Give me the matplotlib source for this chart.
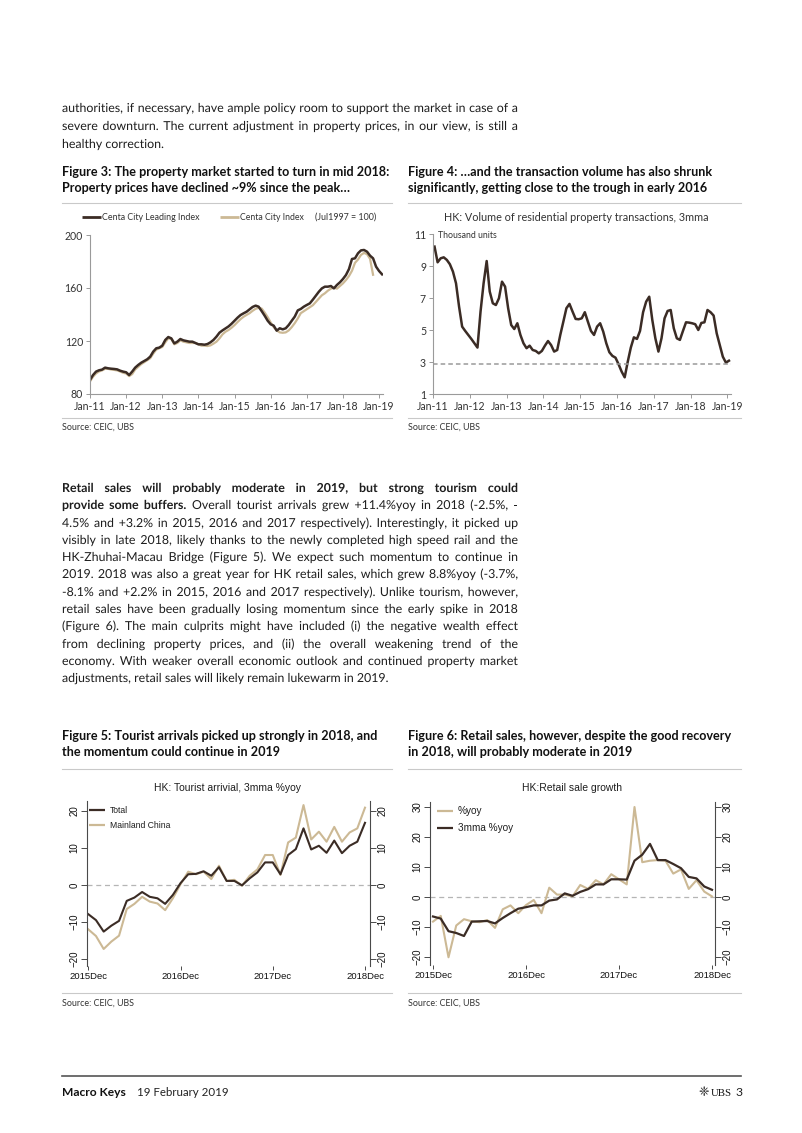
import matplotlib
matplotlib.use('Agg')
import matplotlib.pyplot as plt
import matplotlib.patheffects as pe
from matplotlib.lines import Line2D
import numpy as np

# ---------------- data ----------------
year_ticks = ['Jan-11', 'Jan-12', 'Jan-13', 'Jan-14', 'Jan-15', 'Jan-16', 'Jan-17', 'Jan-18', 'Jan-19']

# Centa City Leading Index, monthly from Jan-11
fig3_leading = [90.6, 94.3, 96.9, 97.9, 98.4, 99.9, 99.4, 99.1, 98.9, 98.6,
                97.6, 96.9, 96.4, 94.3, 96.9, 99.9, 101.9, 103.6, 104.9, 106.2,
                108.2, 112.0, 114.5, 115.0, 116.5, 120.8, 123.0, 122.0, 118.2, 119.5,
                121.5, 120.5, 120.0, 119.5, 119.5, 118.5, 117.5, 117.5, 117.2, 117.7,
                119.0, 120.8, 123.3, 126.3, 128.0, 129.5, 131.0, 133.0, 135.3, 137.6,
                139.6, 140.9, 142.1, 143.9, 145.7, 146.7, 145.9, 142.6, 139.1, 135.3,
                132.6, 131.6, 127.8, 129.6, 128.8, 129.6, 132.1, 135.3, 138.4, 143.1,
                144.2, 145.9, 147.2, 148.4, 151.2, 154.2, 157.2, 159.7, 161.0, 161.0,
                161.5, 159.7, 162.3, 164.3, 166.8, 169.8, 174.3, 181.9, 182.4, 186.2,
                188.4, 188.7, 187.4, 184.4, 182.4, 176.1, 172.8, 170.3]
# Centa City Index
fig3_index = [89.5, 93.0, 95.5, 97.0, 97.8, 99.0, 99.0, 98.5, 98.2, 97.8,
              97.0, 96.0, 95.5, 93.5, 95.0, 98.5, 100.5, 102.5, 104.0, 105.5,
              107.0, 110.5, 113.5, 114.5, 115.5, 119.0, 122.0, 121.5, 117.5, 118.5,
              120.5, 119.5, 119.0, 118.5, 118.5, 118.5, 117.5, 116.5, 116.5, 116.2,
              116.7, 118.0, 119.5, 122.0, 125.0, 127.0, 128.3, 130.0, 132.0, 134.3,
              136.5, 138.3, 139.7, 141.0, 142.8, 144.3, 145.0, 144.5, 141.5, 138.0,
              134.0, 130.5, 128.0, 126.5, 126.2, 126.5, 128.0, 130.5, 133.5, 137.0,
              141.0, 142.5, 144.0, 145.5, 147.0, 149.5, 152.0, 154.5, 156.0, 158.0,
              159.5, 160.3, 159.5, 161.5, 163.5, 166.0, 169.0, 173.0, 179.0, 181.5,
              185.0, 186.5, 185.5, 182.0, 170.0]

# residential property transactions, 3mma, thousand units
fig4_volume = [10.23, 9.25, 9.5, 9.56, 9.4, 9.13, 8.67, 7.94, 6.48, 5.23,
               4.96, 4.71, 4.46, 4.19, 3.92, 6.17, 7.94, 9.33, 7.42, 6.69,
               6.58, 7.0, 8.04, 7.73, 6.38, 5.33, 5.08, 5.44, 4.71, 4.19,
               3.88, 4.04, 3.77, 3.71, 3.56, 3.71, 4.04, 4.33, 4.08, 3.67,
               3.77, 4.71, 5.54, 6.38, 6.65, 6.17, 5.71, 5.69, 5.75, 6.13,
               5.54, 4.96, 4.71, 5.23, 5.44, 4.92, 4.19, 3.63, 3.4, 3.29,
               2.88, 2.42, 2.06, 3.04, 3.92, 4.56, 4.46, 4.96, 6.13, 6.79,
               7.1, 5.65, 4.5, 3.67, 4.5, 5.75, 6.21, 6.27, 5.13, 4.5,
               4.4, 4.96, 5.5, 5.48, 5.44, 5.38, 5.02, 5.46, 5.5, 6.27,
               6.13, 5.92, 4.81, 4.08, 3.35, 2.98, 3.1]
fig4_trough = 2.9

dec_ticks = ['2015Dec', '2016Dec', '2017Dec', '2018Dec']
# tourist arrivals 3mma %yoy, Dec-15 .. Dec-18
fig5_total = [-7.9, -9.5, -12.6, -11.0, -9.7, -4.3, -3.4, -1.9, -3.2, -3.6,
              -5.1, -2.7, 0.5, 2.9, 3.0, 3.7, 2.5, 4.8, 1.1, 1.1,
              -0.1, 1.8, 3.4, 6.1, 6.1, 2.9, 8.1, 9.7, 15.3, 9.6,
              10.6, 8.7, 12.0, 8.6, 10.6, 11.7, 16.8]
fig5_mainland = [-12.0, -13.8, -17.3, -15.3, -13.7, -6.5, -5.1, -3.2, -4.5, -5.0,
                 -6.8, -3.6, 0.2, 3.6, 2.9, 3.6, 1.6, 5.2, 1.1, 1.4,
                 -0.2, 2.5, 4.2, 8.1, 8.1, 2.7, 11.5, 12.8, 21.6, 12.3,
                 14.4, 11.7, 15.7, 11.7, 14.2, 15.3, 20.9]

# retail sales growth, Dec-15 .. Dec-18
fig6_yoy = [-8.2, -6.3, -20.1, -9.5, -7.4, -8.1, -8.4, -7.7, -10.3, -4.1,
            -2.8, -5.4, -2.7, -1.0, -5.4, 3.1, 0.8, 0.8, 0.2, 4.0,
            2.7, 5.6, 4.2, 7.6, 5.9, 4.2, 30.0, 11.6, 12.1, 12.3,
            12.1, 7.8, 9.2, 2.7, 5.6, 1.8, 0.2]
fig6_3mma = [-6.5, -7.2, -11.4, -12.0, -13.0, -8.2, -8.1, -8.0, -8.8, -7.0,
             -5.4, -3.9, -3.4, -2.8, -2.8, -1.2, -0.8, 1.2, 0.4, 1.7,
             2.6, 4.2, 4.2, 5.9, 5.9, 5.8, 12.1, 14.1, 17.7, 12.3,
             12.3, 11.0, 9.6, 6.7, 6.2, 3.5, 2.4]

para1 = ["authorities, if necessary, have ample policy room to support the market in case of a",
         "severe downturn. The current adjustment in property prices, in our view, is still a",
         "healthy correction."]
para2 = ["Retail sales will probably moderate in 2019, but strong tourism could",
         "provide some buffers. Overall tourist arrivals grew +11.4%yoy in 2018 (-2.5%, -",
         "4.5% and +3.2% in 2015, 2016 and 2017 respectively). Interestingly, it picked up",
         "visibly in late 2018, likely thanks to the newly completed high speed rail and the",
         "HK-Zhuhai-Macau Bridge (Figure 5). We expect such momentum to continue in",
         "2019. 2018 was also a great year for HK retail sales, which grew 8.8%yoy (-3.7%,",
         "-8.1% and +2.2% in 2015, 2016 and 2017 respectively). Unlike tourism, however,",
         "retail sales have been gradually losing momentum since the early spike in 2018",
         "(Figure 6). The main culprits might have included (i) the negative wealth effect",
         "from declining property prices, and (ii) the overall weakening trend of the",
         "economy. With weaker overall economic outlook and continued property market",
         "adjustments, retail sales will likely remain lukewarm in 2019."]
para2_bold = [11, 3, 0, 0, 0, 0, 0, 0, 0, 0, 0, 0]

# ---------------- page ----------------
W, H = 802, 1133
DARK = '#3b2c25'
LIGHT = '#ccb995'
TXT = '#1e1e1e'
BODY = 'Lato'
STATA = 'Liberation Sans'

fig = plt.figure(figsize=(W / 100, H / 100), dpi=100)
fig.patch.set_facecolor('white')
R = fig.canvas.get_renderer()


def fx(x):
    return x / W


def fy(y):
    return 1 - y / H


def text_w(s, size, **kw):
    t = fig.text(0, 0, s, fontsize=size, **kw)
    w = t.get_window_extent(renderer=R).width
    t.remove()
    return w


def put(x, y, s, size, **kw):
    kw.setdefault('va', 'baseline')
    kw.setdefault('color', TXT)
    kw.setdefault('family', BODY)
    return fig.text(fx(x), fy(y), s, fontsize=size, **kw)


def fit(x, y, s, width, **kw):
    kw.setdefault('family', BODY)
    size = 10 * width / text_w(s, 10, family=kw['family'], weight=kw.get('weight', 'normal'))
    put(x, y, s, size, **kw)
    return size


def hline(x0, x1, y, color='#c9c9c9', lw=0.8):
    fig.add_artist(Line2D([fx(x0), fx(x1)], [fy(y), fy(y)], color=color, lw=lw))


def seg(x0, x1, y, color, lw):
    fig.add_artist(Line2D([fx(x0), fx(x1)], [fy(y), fy(y)], color=color, lw=lw,
                          solid_capstyle='butt'))


def paragraph(lines, bold, x0, x1, y0, step, size):
    # justified text, one text per word; drawn as paths so all words share one baseline
    sp = text_w('a a', size, family=BODY) - text_w('aa', size, family=BODY)
    for k, line in enumerate(lines):
        words = line.split(' ')
        wts = ['bold' if i < bold[k] else 'normal' for i in range(len(words))]
        ws = [text_w(w, size, family=BODY, weight=t) for w, t in zip(words, wts)]
        last = k == len(lines) - 1
        gap = sp if last else max((x1 - x0 - sum(ws)) / (len(words) - 1), 0.6 * sp)
        x = x0
        yb = round(y0 + k * step)
        for w, t, wd in zip(words, wts, ws):
            put(x, yb, w, size, weight=t, path_effects=[pe.Normal()])
            x += wd + gap


# body size: first line of the opening paragraph is only just justified
sp10 = text_w('a a', 10, family=BODY) - text_w('aa', 10, family=BODY)
w1 = para1[0].split(' ')
nat1 = sum(text_w(w, 10, family=BODY) for w in w1) + sp10 * (len(w1) - 1)
body_size = 10 * 450 / nat1

paragraph(para1, [0, 0, 0], 62, 518, 112.5, 17.5, body_size)
paragraph(para2, para2_bold, 62, 518, 492, 17.3, body_size)

# figure titles
tsize = 10 * 329 / text_w('Figure 3: The property market started to turn in mid 2018:', 10,
                          family=BODY, weight='bold')
titles = [(62, 176, ['Figure 3: The property market started to turn in mid 2018:',
                     'Property prices have declined ~9% since the peak\u2026']),
          (408, 176, ['Figure 4: \u2026and the transaction volume has also shrunk',
                      'significantly, getting close to the trough in early 2016']),
          (62, 740.5, ['Figure 5: Tourist arrivals picked up strongly in 2018, and',
                       'the momentum could continue in 2019']),
          (408, 740.5, ['Figure 6: Retail sales, however, despite the good recovery',
                        'in 2018, will probably moderate in 2019'])]
for x, y, ls in titles:
    for k, s in enumerate(ls):
        put(x, y + 16 * k, s, tsize, weight='bold', color='#111111')

# separators and sources
for x0, x1 in [(62, 392), (408, 741)]:
    hline(x0, x1, 203)
    hline(x0, x1, 418)
    fit(x0, 430, 'Source: CEIC, UBS', 72, color='#333333')
    hline(x0, x1, 769)
    hline(x0, x1, 993)
    fit(x0, 1006, 'Source: CEIC, UBS', 72, color='#333333')


def style_simple(ax):
    for s in ['top', 'right']:
        ax.spines[s].set_visible(False)
    for s in ['left', 'bottom']:
        ax.spines[s].set_color('#9a9a9a')
        ax.spines[s].set_linewidth(0.8)
    ax.tick_params(length=3, width=0.7, color='#9a9a9a', labelsize=7.6,
                   labelcolor='#333333', pad=2)
    for lab in ax.get_xticklabels() + ax.get_yticklabels():
        lab.set_family(BODY)


# ---------------- Figure 3 ----------------
ax3 = fig.add_axes([fx(90), fy(394), (383 - 90) / W, (394 - 235) / H])
ax3.plot(np.arange(len(fig3_index)), fig3_index, color=LIGHT, lw=1.6)
ax3.plot(np.arange(len(fig3_leading)), fig3_leading, color=DARK, lw=1.8)
ax3.set_xlim(0, 97.3)
ax3.set_ylim(80, 200)
ax3.set_yticks([80, 120, 160, 200])
ax3.set_xticks(np.arange(0, 97, 12))
ax3.set_xticklabels(year_ticks)
style_simple(ax3)

seg(82, 101, 217, DARK, 2.0)
fit(102, 220, 'Centa City Leading Index', 98, color='#333333')
seg(220, 239, 217, LIGHT, 2.0)
fit(240, 220, 'Centa City Index', 64, color='#333333')
fit(315, 220, '(Jul1997 = 100)', 61, color='#333333')

# ---------------- Figure 4 ----------------
ax4 = fig.add_axes([fx(433), fy(394.3), (730.5 - 433) / W, (394.3 - 234.3) / H])
ax4.plot(np.arange(len(fig4_volume)) + 0.5, fig4_volume, color=DARK, lw=1.8)
ax4.axhline(fig4_trough, color='#9a9a9a', lw=1.1, ls=(0, (3, 2)))
ax4.set_xlim(0, 97)
ax4.set_ylim(1, 11)
ax4.set_yticks([1, 3, 5, 7, 9, 11])
ax4.set_xticks(np.arange(0, 97, 12))
ax4.set_xticklabels(year_ticks)
style_simple(ax4)
fit(444, 221, 'HK: Volume of residential property transactions, 3mma', 263, color='#333333')
fit(438, 238, 'Thousand units', 59, color='#333333')


# ---------------- Figures 5 and 6 (Stata style) ----------------
def stata_axes(left, right, top, bottom, x0, x36, ylim, yticks):
    ax = fig.add_axes([fx(left), fy(bottom), (right - left) / W, (bottom - top) / H])
    ppm = (x36 - x0) / 36.0
    ax.set_xlim((left - x0) / ppm, (right - x0) / ppm)
    ax.set_ylim(*ylim)
    ax.set_yticks(yticks)
    ax.set_xticks([0, 12, 24, 36])
    ax.set_xticklabels(dec_ticks)
    ax.spines['top'].set_visible(False)
    ax.spines['bottom'].set_visible(False)
    for s in ['left', 'right']:
        ax.spines[s].set_color('#4a4a4a')
        ax.spines[s].set_linewidth(0.8)
    ax.tick_params(axis='y', left=True, right=True, labelleft=True, labelright=True,
                   labelrotation=90, length=4, width=0.7, color='#4a4a4a',
                   labelsize=7, pad=1.5)
    ax.tick_params(axis='x', length=3, width=0.7, color='#4a4a4a', labelsize=6.8, pad=1.5)
    for lab in ax.get_xticklabels() + ax.get_yticklabels():
        lab.set_family(STATA)
        lab.set_color('#111111')
    for lab in ax.get_yticklabels():
        lab.set_va('center')
    ax.axhline(0, color='#b5b5b5', lw=0.9, ls=(0, (4, 3)))
    return ax


m = np.arange(37)
ax5 = stata_axes(87, 370, 801, 966, 88.3, 365, (-21.9, 22.7), [-20, -10, 0, 10, 20])
ax5.plot(m, fig5_mainland, color=LIGHT, lw=1.5)
ax5.plot(m, fig5_total, color=DARK, lw=1.5)
put(227, 791, 'HK: Tourist arrivial, 3mma %yoy', 7.5, ha='center', family=STATA)
seg(89, 105, 810, DARK, 1.6)
put(110, 813, 'Total', 6.2, family=STATA)
seg(89, 105, 825, LIGHT, 1.6)
put(110, 827.5, 'Mainland China', 6.2, family=STATA)

ax6 = stata_axes(430, 715, 802, 965, 433, 712, (-22.67, 31.67), [-20, -10, 0, 10, 20, 30])
ax6.plot(m, fig6_yoy, color=LIGHT, lw=1.5)
ax6.plot(m, fig6_3mma, color=DARK, lw=1.6)
put(572, 791, 'HK:Retail sale growth', 7.5, ha='center', family=STATA)
seg(437, 453, 811, LIGHT, 1.6)
put(458, 814, '%yoy', 7.2, family=STATA)
seg(437, 453, 828, DARK, 1.6)
put(458, 831, '3mma %yoy', 7.2, family=STATA)

# ---------------- footer ----------------
hline(62, 741, 1076, color='#555555', lw=1.2)
fit(62, 1096, 'Macro Keys', 64, weight='bold', color='#111111')
fit(137, 1096, '19 February 2019', 91, color='#222222')
put(698, 1096, '\u2748', 9, family='DejaVu Sans', color='#222222')
fit(711, 1096, 'UBS', 21, family='Liberation Serif', color='#111111')
put(735, 1096, '3', 8.8, color='#222222')

fig.savefig('out.png', dpi=100, facecolor='white')
